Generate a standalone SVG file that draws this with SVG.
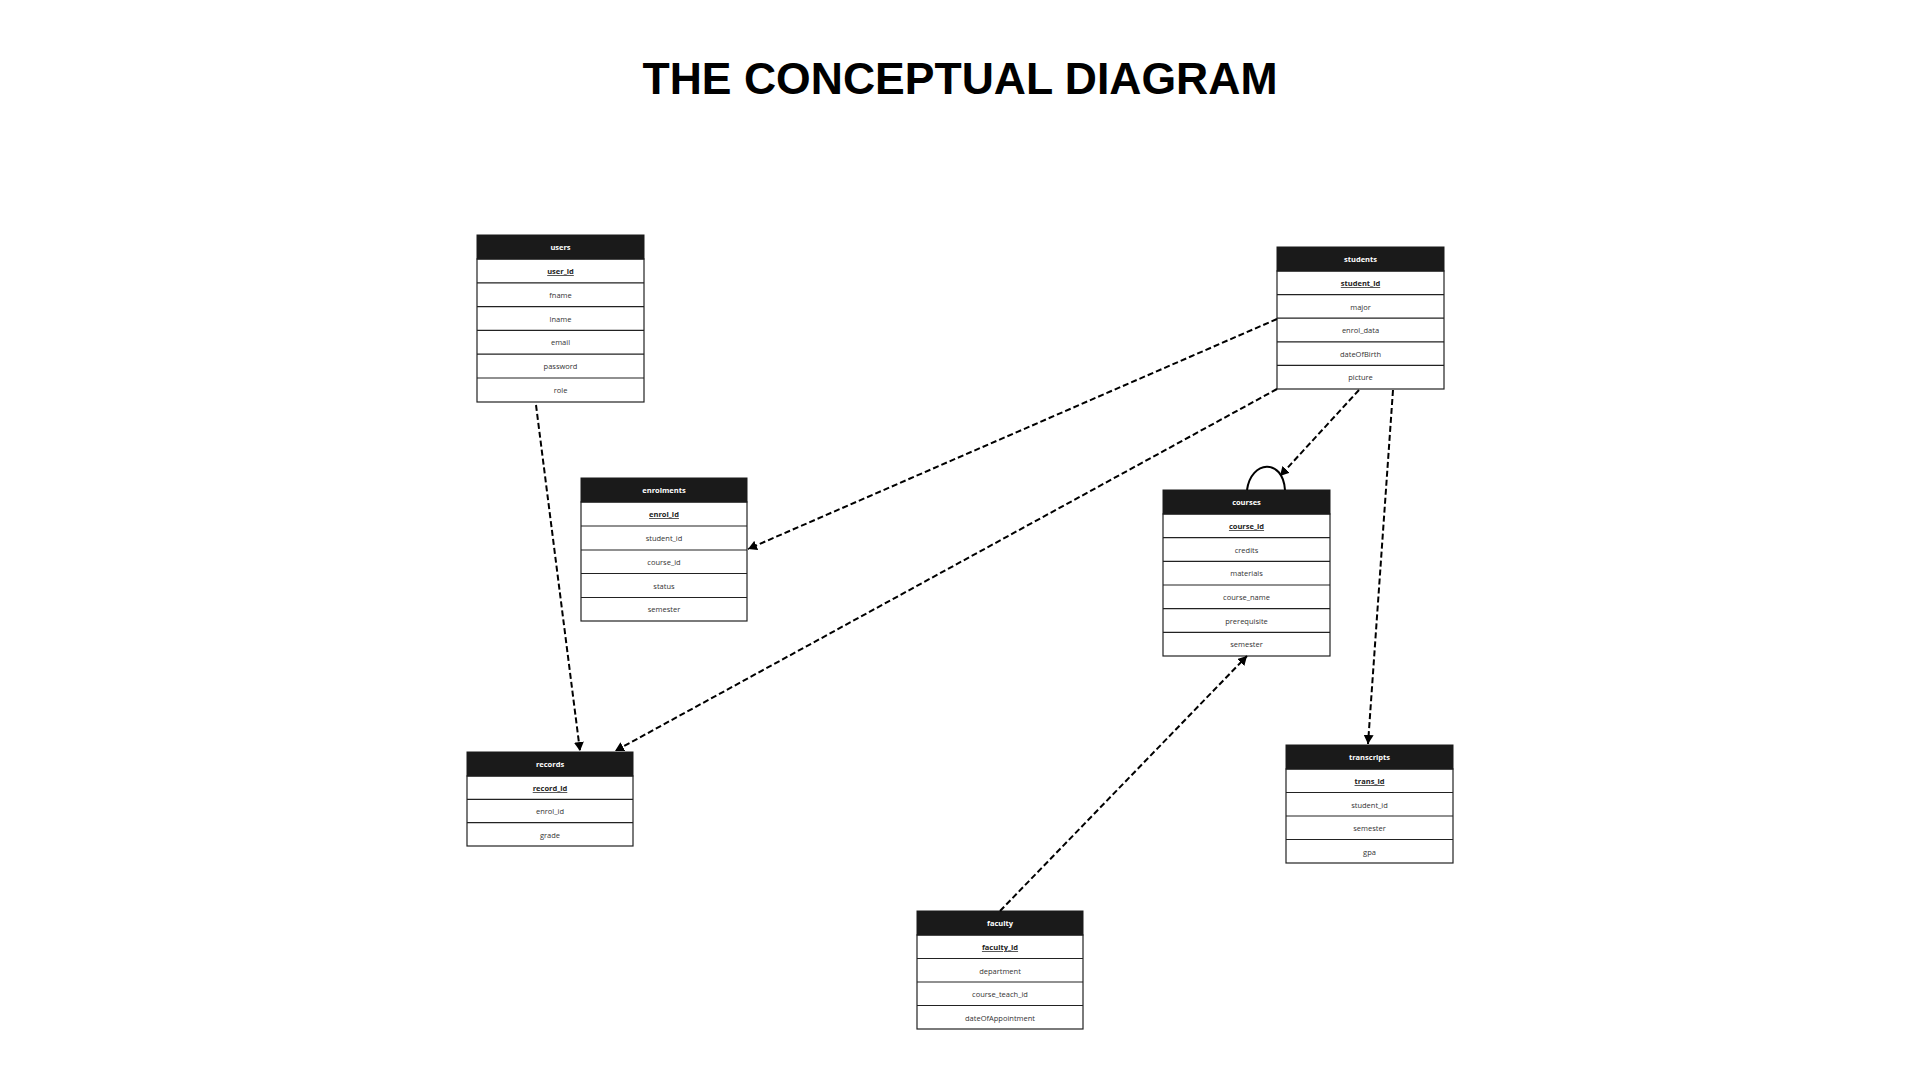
<svg xmlns="http://www.w3.org/2000/svg" width="1920" height="1080" viewBox="0 0 1920 1080">
<defs>
<marker id="arr" markerUnits="userSpaceOnUse" markerWidth="10" markerHeight="10" refX="9" refY="5" orient="auto">
<path d="M0,0 L9,5 L0,10 Z" fill="#000"/>
</marker>
<style>
.hdr{fill:#1a1a1a;stroke:#1a1a1a;stroke-width:1}
.row{fill:#fff;stroke:#222;stroke-width:1.2}
.ht{font-family:"Open Sans","Liberation Sans",sans-serif;font-size:7.5px;font-weight:bold;fill:#fff;text-anchor:middle}
.rt{font-family:"Open Sans","Liberation Sans",sans-serif;font-size:7.5px;fill:#333;text-anchor:middle}
.kt{font-family:"Open Sans","Liberation Sans",sans-serif;font-size:7.5px;font-weight:bold;fill:#222;text-anchor:middle;text-decoration:underline}
.dash{fill:none;stroke:#000;stroke-width:2;stroke-dasharray:6 3;marker-end:url(#arr)}
.title{font-family:"Liberation Sans",Arial,sans-serif;font-size:44px;font-weight:bold;fill:#000;text-anchor:middle}
</style>
</defs>
<rect width="1920" height="1080" fill="#fff"/>
<text class="title" x="960" y="93.5" textLength="635" lengthAdjust="spacingAndGlyphs">THE CONCEPTUAL DIAGRAM</text>

<g id="users">
<rect class="row" x="477" y="259" width="167" height="143"/>
<rect class="hdr" x="477" y="235" width="167" height="24"/>
<text class="ht" x="560.5" y="250">users</text>
<line class="row" x1="477" y1="282.8" x2="644" y2="282.8"/>
<line class="row" x1="477" y1="306.6" x2="644" y2="306.6"/>
<line class="row" x1="477" y1="330.4" x2="644" y2="330.4"/>
<line class="row" x1="477" y1="354.2" x2="644" y2="354.2"/>
<line class="row" x1="477" y1="378" x2="644" y2="378"/>
<text class="kt" x="560.5" y="274">user_id</text>
<text class="rt" x="560.5" y="297.8">fname</text>
<text class="rt" x="560.5" y="321.6">lname</text>
<text class="rt" x="560.5" y="345.4">email</text>
<text class="rt" x="560.5" y="369.2">password</text>
<text class="rt" x="560.5" y="393">role</text>
</g>

<g id="students">
<rect class="row" x="1277" y="271" width="167" height="118"/>
<rect class="hdr" x="1277" y="247" width="167" height="24"/>
<text class="ht" x="1360.5" y="262">students</text>
<line class="row" x1="1277" y1="294.6" x2="1444" y2="294.6"/>
<line class="row" x1="1277" y1="318.2" x2="1444" y2="318.2"/>
<line class="row" x1="1277" y1="341.8" x2="1444" y2="341.8"/>
<line class="row" x1="1277" y1="365.4" x2="1444" y2="365.4"/>
<text class="kt" x="1360.5" y="286">student_id</text>
<text class="rt" x="1360.5" y="309.6">major</text>
<text class="rt" x="1360.5" y="333.2">enrol_data</text>
<text class="rt" x="1360.5" y="356.8">dateOfBirth</text>
<text class="rt" x="1360.5" y="380.4">picture</text>
</g>

<g id="enrolments">
<rect class="row" x="581" y="502" width="166" height="119"/>
<rect class="hdr" x="581" y="478" width="166" height="24"/>
<text class="ht" x="664" y="493">enrolments</text>
<line class="row" x1="581" y1="526" x2="747" y2="526"/>
<line class="row" x1="581" y1="550" x2="747" y2="550"/>
<line class="row" x1="581" y1="573.5" x2="747" y2="573.5"/>
<line class="row" x1="581" y1="597.5" x2="747" y2="597.5"/>
<text class="kt" x="664" y="517">enrol_id</text>
<text class="rt" x="664" y="541">student_id</text>
<text class="rt" x="664" y="564.5">course_id</text>
<text class="rt" x="664" y="588.5">status</text>
<text class="rt" x="664" y="612">semester</text>
</g>

<g id="courses">
<rect class="row" x="1163" y="514" width="167" height="142"/>
<rect class="hdr" x="1163" y="490" width="167" height="24"/>
<text class="ht" x="1246.5" y="505">courses</text>
<line class="row" x1="1163" y1="537.7" x2="1330" y2="537.7"/>
<line class="row" x1="1163" y1="561.3" x2="1330" y2="561.3"/>
<line class="row" x1="1163" y1="585" x2="1330" y2="585"/>
<line class="row" x1="1163" y1="608.7" x2="1330" y2="608.7"/>
<line class="row" x1="1163" y1="632.3" x2="1330" y2="632.3"/>
<text class="kt" x="1246.5" y="529">course_id</text>
<text class="rt" x="1246.5" y="552.7">credits</text>
<text class="rt" x="1246.5" y="576.3">materials</text>
<text class="rt" x="1246.5" y="600">course_name</text>
<text class="rt" x="1246.5" y="623.7">prerequisite</text>
<text class="rt" x="1246.5" y="647.3">semester</text>
</g>

<g id="records">
<rect class="row" x="467" y="776" width="166" height="70"/>
<rect class="hdr" x="467" y="752" width="166" height="24"/>
<text class="ht" x="550" y="767">records</text>
<line class="row" x1="467" y1="799.3" x2="633" y2="799.3"/>
<line class="row" x1="467" y1="822.7" x2="633" y2="822.7"/>
<text class="kt" x="550" y="791">record_id</text>
<text class="rt" x="550" y="814.3">enrol_id</text>
<text class="rt" x="550" y="837.7">grade</text>
</g>

<g id="transcripts">
<rect class="row" x="1286" y="769" width="167" height="94"/>
<rect class="hdr" x="1286" y="745" width="167" height="24"/>
<text class="ht" x="1369.5" y="760">transcripts</text>
<line class="row" x1="1286" y1="792.5" x2="1453" y2="792.5"/>
<line class="row" x1="1286" y1="816" x2="1453" y2="816"/>
<line class="row" x1="1286" y1="839.5" x2="1453" y2="839.5"/>
<text class="kt" x="1369.5" y="784">trans_id</text>
<text class="rt" x="1369.5" y="807.5">student_id</text>
<text class="rt" x="1369.5" y="831">semester</text>
<text class="rt" x="1369.5" y="854.5">gpa</text>
</g>

<g id="faculty">
<rect class="row" x="917" y="935" width="166" height="94"/>
<rect class="hdr" x="917" y="911" width="166" height="24"/>
<text class="ht" x="1000" y="926">faculty</text>
<line class="row" x1="917" y1="958.5" x2="1083" y2="958.5"/>
<line class="row" x1="917" y1="982" x2="1083" y2="982"/>
<line class="row" x1="917" y1="1005.5" x2="1083" y2="1005.5"/>
<text class="kt" x="1000" y="950">faculty_id</text>
<text class="rt" x="1000" y="973.5">department</text>
<text class="rt" x="1000" y="997">course_teach_id</text>
<text class="rt" x="1000" y="1020.5">dateOfAppointment</text>
</g>

<g id="connectors">
<line class="dash" x1="536" y1="405" x2="580" y2="751"/>
<line class="dash" x1="1277" y1="319" x2="748" y2="549"/>
<line class="dash" x1="1277" y1="389" x2="615" y2="751"/>
<line class="dash" x1="1359" y1="390" x2="1280" y2="476"/>
<line class="dash" x1="1393" y1="390" x2="1368" y2="744"/>
<line class="dash" x1="1000" y1="911" x2="1247" y2="656"/>
<path d="M1247,490 C1251,460 1283,458 1285,490" fill="none" stroke="#000" stroke-width="2"/>
</g>
</svg>
